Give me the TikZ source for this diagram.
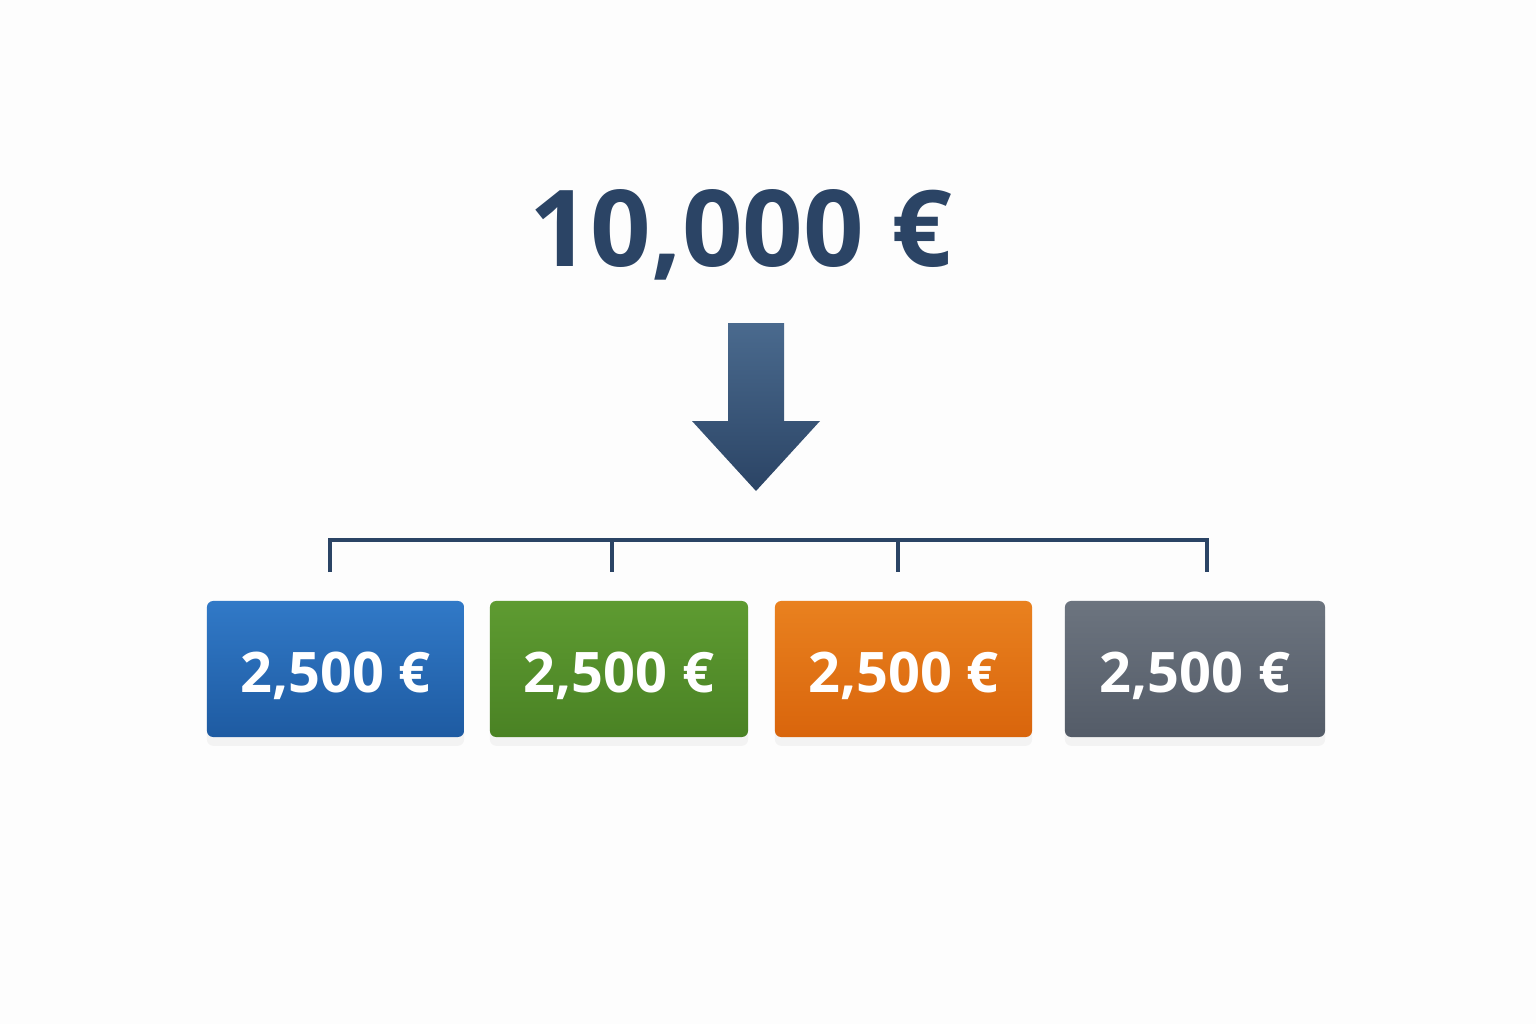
\documentclass[tikz,border=0pt]{standalone}
\usepackage{fontspec}
\setmainfont{Open Sans}
\usetikzlibrary{shadows}
\definecolor{navy}{HTML}{2B4465}
\definecolor{navylight}{HTML}{4A6A8E}
\definecolor{blueTop}{HTML}{3179C7}
\definecolor{blueBot}{HTML}{1E5BA2}
\definecolor{greenTop}{HTML}{5E9B31}
\definecolor{greenBot}{HTML}{4A8224}
\definecolor{orangeTop}{HTML}{E9811F}
\definecolor{orangeBot}{HTML}{D9650C}
\definecolor{grayTop}{HTML}{6C747F}
\definecolor{grayBot}{HTML}{545C68}
\definecolor{paper}{HTML}{FDFDFD}
\begin{document}
\begin{tikzpicture}[x=0.01cm, y=-0.01cm,
    sharebox/.style={rounded corners=1.8pt, text=white, minimum height=1.36cm,
        text height=0.46cm, text depth=0pt,
        font=\fontsize{15.9}{18}\selectfont\bfseries,
        drop shadow={opacity=0.08, shadow xshift=0pt, shadow yshift=-2.5pt}},
    bracket/.style={draw=navy, line width=1.1pt}]
    % Background
    \fill[paper] (0,0) rectangle (1536,1024);
    \useasboundingbox (0,0) rectangle (1536,1024);

    % Total
    \node[anchor=base, text=navy, font=\fontsize{30.2}{34}\selectfont\bfseries] (total) at (741,266) {10,000 €};

    % Arrow
    \shade[top color=navylight, bottom color=navy]
        (728,323) -- (784,323) -- (784,421) -- (820,421) -- (756,491)
        -- (692,421) -- (728,421) -- cycle;

    % Blocks
    \node[sharebox, top color=blueTop, bottom color=blueBot,
        minimum width=2.57cm] (share1) at (335.5,669) {2,500 €};
    \node[sharebox, top color=greenTop, bottom color=greenBot,
        minimum width=2.58cm] (share2) at (619,669) {2,500 €};
    \node[sharebox, top color=orangeTop, bottom color=orangeBot,
        minimum width=2.57cm] (share3) at (903.5,669) {2,500 €};
    \node[sharebox, top color=grayTop, bottom color=grayBot,
        minimum width=2.60cm] (share4) at (1195,669) {2,500 €};

    % Bracket
    \coordinate (top1) at (330,540);
    \coordinate (top2) at (612,540);
    \coordinate (top3) at (898,540);
    \coordinate (top4) at (1207,540);
    \coordinate (end1) at (330,572);
    \coordinate (end2) at (612,572);
    \coordinate (end3) at (898,572);
    \coordinate (end4) at (1207,572);
    \draw[bracket] (end1) -- (top1) -- (top4) -- (end4);
    \draw[bracket] (top2) -- (end2);
    \draw[bracket] (top3) -- (end3);

\end{tikzpicture}
\end{document}
